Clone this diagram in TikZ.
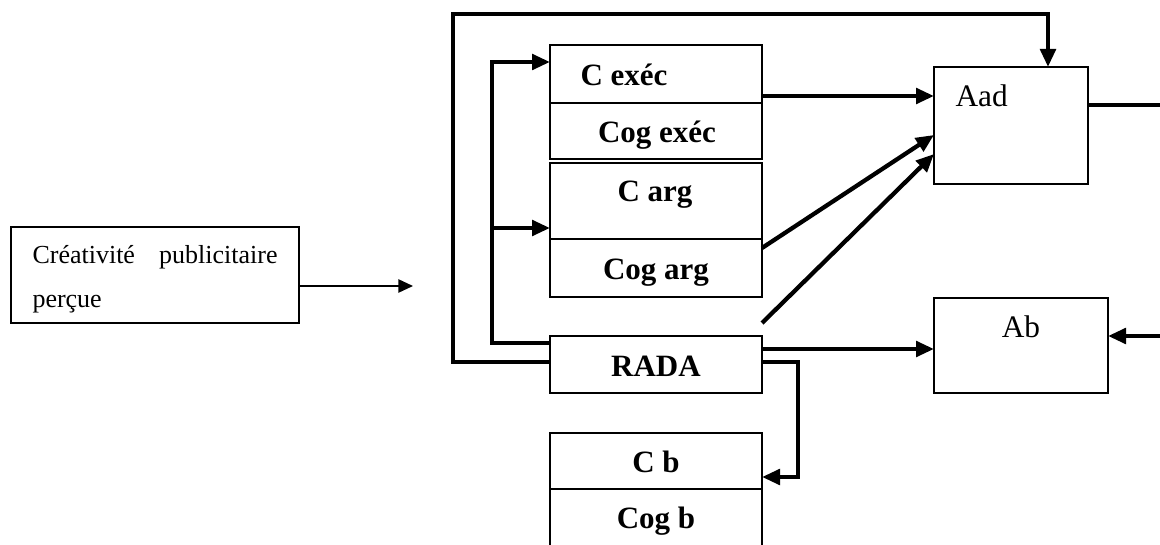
\documentclass[tikz,border=0pt]{standalone}
\usepackage{fontspec}
\setmainfont{Liberation Serif}
\usetikzlibrary{arrows.meta,calc}

\tikzset{every picture/.style={line width=0.75pt}}
\tikzset{
  box/.style={draw, line width=1.2pt, inner sep=0pt, outer sep=0pt, anchor=north west},
  link/.style={line width=3.2pt},
  linkarr/.style={link, -{Triangle[length=13.5pt,width=11.5pt]}},
  thinarr/.style={line width=1.2pt, -{Triangle[length=11pt,width=10pt]}},
  lbl/.style={inner sep=0pt, font=\fontsize{23.25}{28}\selectfont\bfseries},
  txt/.style={inner sep=0pt, font=\fontsize{23.5}{28}\selectfont}
}

\begin{document}
\begin{tikzpicture}[x=0.75pt,y=0.75pt,yscale=-1,xscale=1]
\useasboundingbox (0,0) rectangle (1160,545);

%Shape: Rectangle [creativite]
\node[box, minimum width=216pt, minimum height=72pt] (creat) at (11,227) {};
%Shape: Rectangle [stack of boxes]
\node[box, minimum width=159pt, minimum height=43.5pt] (cexec) at (550,45) {};
\node[box, minimum width=159pt, minimum height=42pt] (cogexec) at (550,103) {};
\node[box, minimum width=159pt, minimum height=57pt] (carg) at (550,163) {};
\node[box, minimum width=159pt, minimum height=43.5pt] (cogarg) at (550,239) {};
\node[box, minimum width=159pt, minimum height=42.75pt] (rada) at (550,336) {};
\node[box, minimum width=159pt, minimum height=42pt] (cb) at (550,433) {};
\node[box, minimum width=159pt, minimum height=53.25pt] (cogb) at (550,489) {};
%Shape: Rectangle [attitudes]
\node[box, minimum width=115.5pt, minimum height=87.75pt] (aad) at (934,67) {};
\node[box, minimum width=130.5pt, minimum height=71.25pt] (ab) at (934,298) {};

% Text Node
\node[anchor=north west, inner sep=0pt, text width=183.75pt, align=left,
  font=\fontsize{19.5}{33}\selectfont] (tcreat) at (32,245)
  {Créativité\hfill publicitaire\\perçue};
\node[lbl, anchor=base west] (tcexec) at (580,86) {C exéc};
\node[lbl, anchor=base] (tcogexec) at (657,143) {Cog exéc};
\node[lbl, anchor=base] (tcarg) at (655,202) {C arg};
\node[lbl, anchor=base] (tcogarg) at (656,280) {Cog arg};
\node[lbl, anchor=base] (trada) at (656,376) {RADA};
\node[lbl, anchor=base] (tcb) at (656,472) {C b};
\node[lbl, anchor=base] (tcogb) at (656,528) {Cog b};
\node[txt, anchor=base west] (taad) at (955,107) {Aad};
\node[txt, anchor=base] (tab) at (1021,337) {Ab};

%Free ends
\coordinate (creatend) at (413,286);
\coordinate (jn) at (492,228);
\coordinate (edgeaad) at (1165,105);
\coordinate (edgeab) at (1165,336);

%Straight Lines
\draw[thinarr] (creat.east |- 0,286) -- (creatend);
\draw[linkarr] (rada.west |- 0,362) -| (453,14) -| (aad.north -| 1048,0);
\draw[linkarr] (rada.west |- 0,343) -| (492,62) -- (cexec.west |- 0,62);
\draw[linkarr] (jn) -- (carg.west |- jn);
\draw[linkarr] (cexec.east |- 0,96) -- (aad.west |- 0,96);
\draw[linkarr] (cogarg.east |- 0,248) -- (aad.west |- 0,135);
\draw[linkarr] (rada.east |- 0,323) -- (aad.west |- 0,154);
\draw[linkarr] (rada.east |- 0,349) -- (ab.west |- 0,349);
\draw[linkarr] (rada.east |- 0,362) -| (798,477) -- (cb.east |- 0,477);
\draw[link] (aad.east |- edgeaad) -- (edgeaad);
\draw[linkarr] (edgeab) -- (ab.east |- edgeab);

\end{tikzpicture}
\end{document}
